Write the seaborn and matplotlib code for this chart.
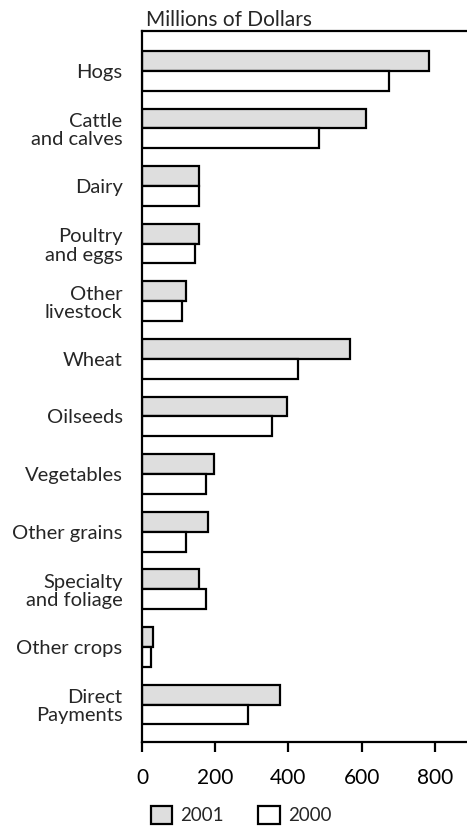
import matplotlib
matplotlib.use("Agg")
import matplotlib.pyplot as plt
from matplotlib.patches import Patch
import pandas as pd
import seaborn as sns

# categories top to bottom
categories = ["Hogs", "Cattle\nand calves", "Dairy", "Poultry\nand eggs",
              "Other\nlivestock", "Wheat", "Oilseeds", "Vegetables",
              "Other grains", "Specialty\nand foliage", "Other crops",
              "Direct\nPayments"]
# millions of dollars
vals_2001 = [784, 611, 157, 157, 121, 568, 395, 198, 181, 157, 31, 378]
vals_2000 = [676, 485, 157, 145, 109, 425, 354, 175, 120, 176, 26, 289]
years = ["2001", "2000"]
x_ticks = [0, 200, 400, 600, 800]

df = pd.DataFrame({
    "category": categories * 2,
    "year": ["2001"] * len(categories) + ["2000"] * len(categories),
    "value": vals_2001 + vals_2000,
})

sns.set_style("white")
plt.rcParams["font.family"] = ["Lato", "DejaVu Sans"]

fig = plt.figure(figsize=(4.67, 8.27), dpi=100)
ax = fig.add_axes([0.304, 0.1028, 0.696, 0.8597])

colors = {"2001": "#dedede", "2000": "white"}
sns.barplot(data=df, y="category", x="value", hue="year", hue_order=years,
            order=categories, palette=colors, edgecolor="black",
            linewidth=1.6, width=0.69, orient="h", ax=ax, legend=False)

ax.set_xlim(0, 888)
ax.set_ylim(11.65, -0.69)
ax.set_xticks(x_ticks)
ax.set_xlabel("")
ax.set_ylabel("")

for s in ["left", "top", "bottom"]:
    ax.spines[s].set_visible(True)
    ax.spines[s].set_color("black")
    ax.spines[s].set_linewidth(1.6)
ax.spines["right"].set_visible(False)

ax.tick_params(axis="x", direction="out", length=7, width=1.6,
               colors="black", labelsize=15, pad=12, bottom=True)
ax.tick_params(axis="y", length=0, labelsize=14.5, pad=14)
for lbl in ax.get_yticklabels():
    lbl.set_horizontalalignment("right")
    lbl.set_multialignment("right")
    lbl.set_linespacing(1.1)

ax.annotate("Millions of Dollars", xy=(0, 1), xycoords="axes fraction",
            xytext=(3, 1), textcoords="offset points", ha="left",
            va="bottom", fontsize=15)

handles = [Patch(facecolor=colors[y], edgecolor="black", linewidth=1.6)
           for y in years]
fig.legend(handles, years, loc="center", bbox_to_anchor=(241 / 467, 0.0145),
           ncol=2, frameon=False, fontsize=13.5, handlelength=1.15,
           handleheight=1.15, handletextpad=0.45, columnspacing=1.8)

fig.savefig("out.png", dpi=100)
